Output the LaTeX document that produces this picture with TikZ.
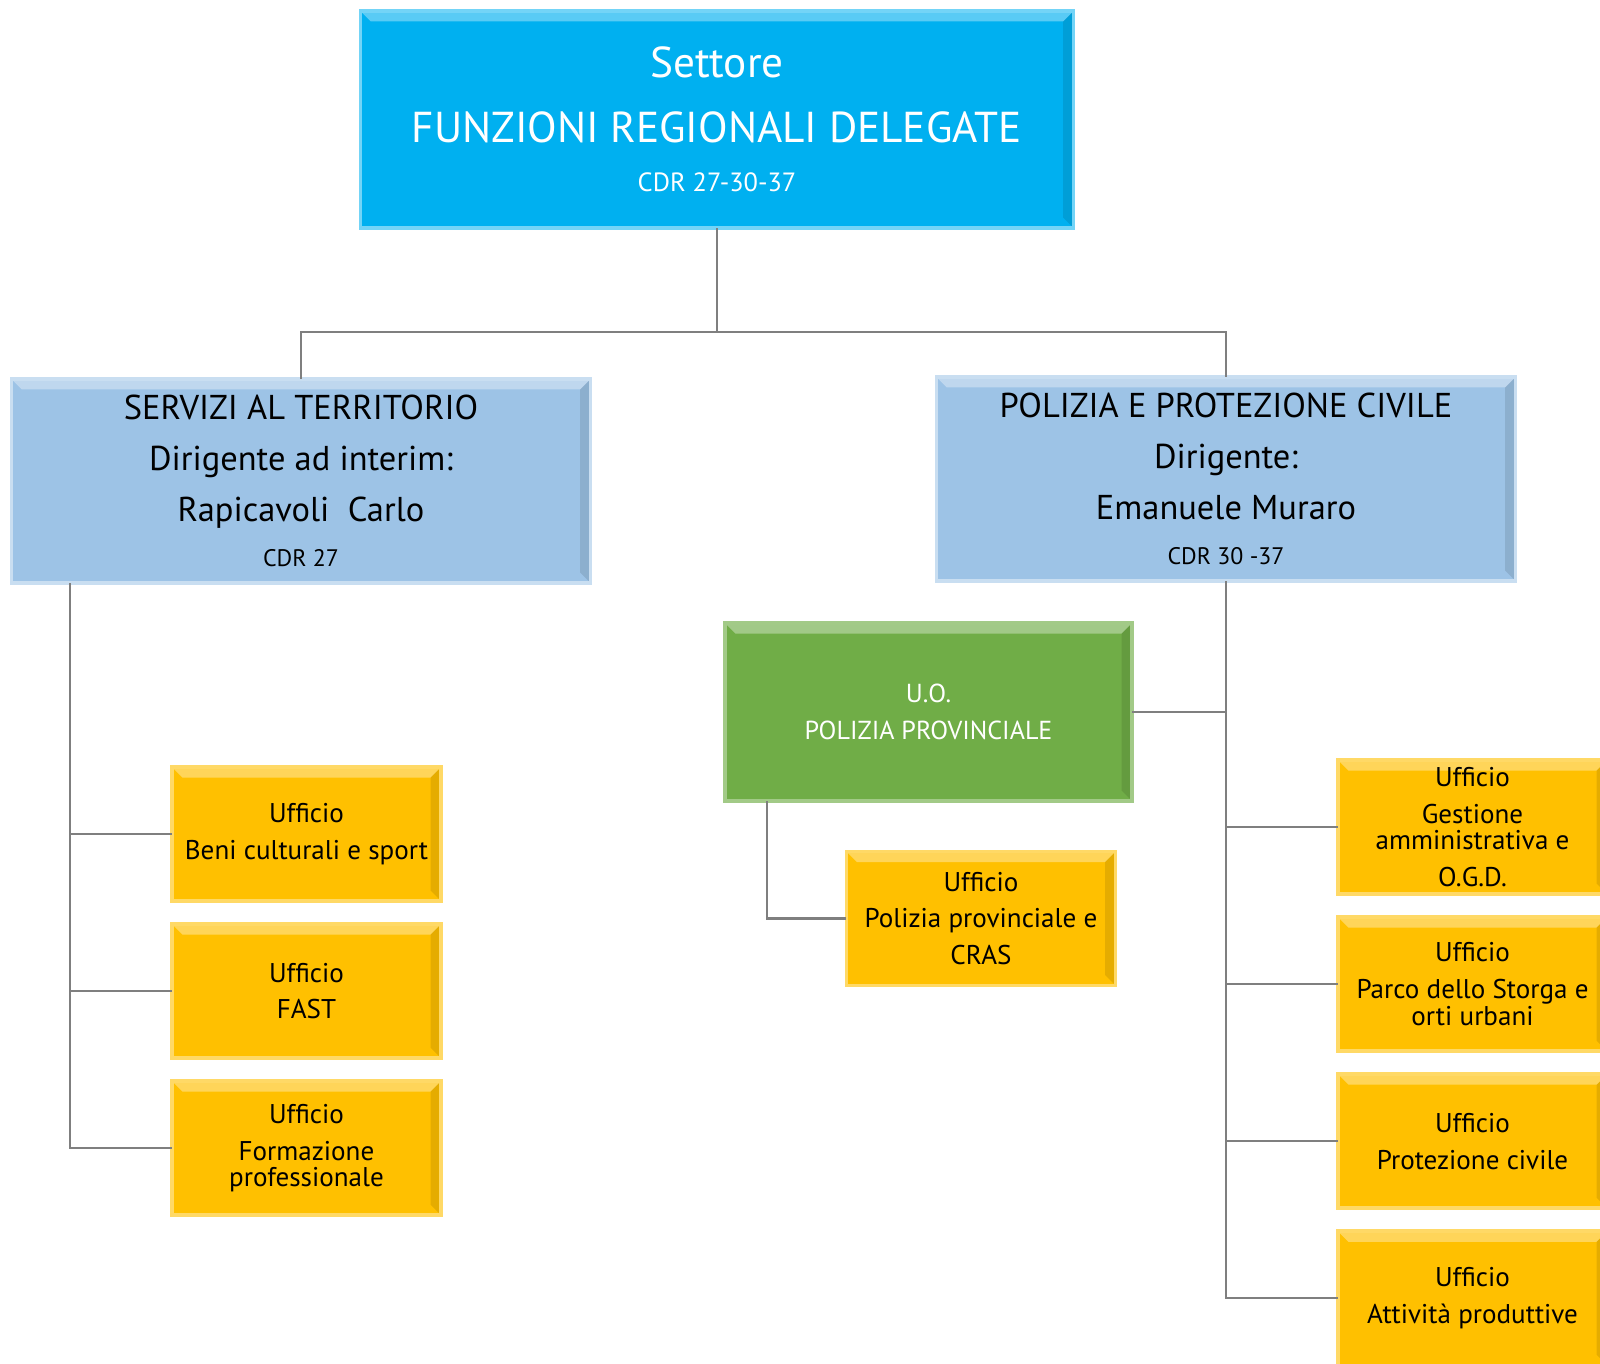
\documentclass[tikz,border=0pt]{standalone}
\usepackage{fontspec}
\setmainfont{PT Sans}
\usetikzlibrary{positioning}
\definecolor{settcyan}{HTML}{00B0F0}
\definecolor{servblue}{HTML}{9DC3E6}
\definecolor{uogreen}{HTML}{70AD47}
\definecolor{uffyellow}{HTML}{FFC000}
\definecolor{linegray}{HTML}{7F7F7F}
\tikzset{
	bevel/.style={path picture={
		\fill[white,opacity=.35] (path picture bounding box.north west) -- (path picture bounding box.north east) -- ([shift={(-3pt,-3pt)}]path picture bounding box.north east) -- ([shift={(3pt,-3pt)}]path picture bounding box.north west) -- cycle;
		\fill[black,opacity=.10] (path picture bounding box.north east) -- (path picture bounding box.south east) -- ([shift={(-3pt,3pt)}]path picture bounding box.south east) -- ([shift={(-3pt,-3pt)}]path picture bounding box.north east) -- cycle;}},
	sett/.style={rectangle,bevel,line width=1pt,outer sep=0pt,fill=settcyan,draw=settcyan!55!white,minimum width=7.13cm,minimum height=2.17cm,align=center,text=white,font=\fontsize{12.3}{18.4}\selectfont},
	serv/.style={rectangle,bevel,line width=1pt,outer sep=0pt,fill=servblue,draw=servblue!55!white,minimum width=5.79cm,minimum height=2.04cm,align=center,text=black,font=\fontsize{9.8}{14.5}\selectfont},
	uobox/.style={rectangle,bevel,line width=1pt,outer sep=0pt,fill=uogreen,draw=uogreen!65!white,minimum width=4.07cm,minimum height=1.78cm,align=center,text=white,font=\fontsize{7.4}{10.5}\selectfont},
	uff/.style={rectangle,bevel,line width=1pt,outer sep=0pt,inner ysep=0pt,fill=uffyellow,draw=uffyellow!60!white,minimum width=2.69cm,minimum height=1.34cm,align=center,text=black,font=\fontsize{7.7}{10.5}\selectfont},
	conn/.style={draw=linegray,line width=0.6pt}
}
\begin{document}
\begin{tikzpicture}[x=0.01cm,y=-0.01cm]
	\useasboundingbox (0,0) rectangle (1600,1364);
	\clip (0,0) rectangle (1600,1364);
	% settore e servizi
	\node (sett) [sett] at (717,119.5) {Settore\\FUNZIONI REGIONALI DELEGATE\\[-4.4pt]{\fontsize{7.5}{9}\selectfont CDR 27-30-37}};
	\node (servizi) [serv] at (301,481) {SERVIZI AL TERRITORIO\\Dirigente ad interim:\\Rapicavoli~ Carlo\\[-1.8pt]{\fontsize{6.8}{8}\selectfont CDR 27}};
	\node (polizia) [serv] at (1226,479) {POLIZIA E PROTEZIONE CIVILE\\Dirigente:\\Emanuele Muraro\\[-1.8pt]{\fontsize{6.8}{8}\selectfont CDR 30 -37}};
	\node (uopp) [uobox] at (928.5,712) {U.O.\\POLIZIA PROVINCIALE};
	\node (ucras) [uff] at (981,918.5) {Ufficio\\Polizia provinciale e\\CRAS};
	% uffici
	\node (beni) [uff] at (306.5,834) {Ufficio\\Beni culturali e sport};
	\node (fast) [uff,below=0.23cm of beni] {Ufficio\\FAST};
	\node (form) [uff,below=0.23cm of fast] {Ufficio\\Formazione\\[-3pt]professionale};
	\node (gest) [uff] at (1472.5,827) {Ufficio\\Gestione\\[-3pt]amministrativa e\\O.G.D.};
	\node (parco) [uff,below=0.23cm of gest] {Ufficio\\Parco dello Storga e\\[-3pt]orti urbani};
	\node (prot) [uff,below=0.23cm of parco] {Ufficio\\Protezione civile};
	\node (attiv) [uff,below=0.23cm of prot] {Ufficio\\Attività produttive};
	% connettori
	\draw[conn] (sett.south) -- ++(0,104) coordinate (snodo);
	\draw[conn] (snodo) -| (servizi.north);
	\draw[conn] (snodo) -| (polizia.north);
	\coordinate (ltop) at ([xshift=0.59cm]servizi.south west);
	\foreach \n in {beni,fast,form} \draw[conn] (ltop) |- (\n.west);
	\draw[conn] (uopp.east) -| (polizia.south);
	\foreach \n in {gest,parco,prot,attiv} \draw[conn] (polizia.south) |- (\n.west);
	\coordinate (gtop) at ([xshift=0.42cm]uopp.south west);
	\draw[conn] (gtop) |- (ucras.west);
\end{tikzpicture}
\end{document}
